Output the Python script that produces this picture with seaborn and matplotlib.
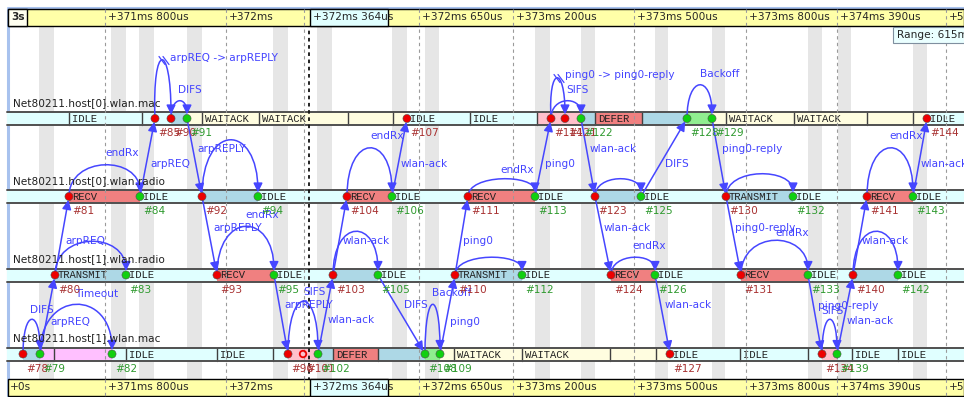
import numpy as np
import pandas as pd
import matplotlib
matplotlib.use("Agg")
import matplotlib.pyplot as plt
import seaborn as sns
from matplotlib.patches import Rectangle, FancyArrowPatch
from matplotlib.path import Path

sns.set_style("white")
plt.rcParams['font.family'] = ['DejaVu Sans']

# ---------------- data ----------------
axis_names = ["Net80211.host[0].wlan.mac", "Net80211.host[0].wlan.radio",
              "Net80211.host[1].wlan.radio", "Net80211.host[1].wlan.mac"]

# timeline ticks (x = position on the non-linear time axis)
tick_x = [105, 226, 419, 513, 634, 746, 837, 946]
tick_labels = ["+371ms 800us", "+372ms", "+372ms 650us", "+373ms 200us",
               "+373ms 500us", "+373ms 800us", "+374ms 390us", "+50"]
cursor_x = 309
cursor_label = "+372ms 364us"
range_label = "Range: 615ms"

# events: id, axis index, time position, kind (r = red, g = green, o = hollow)
event_ids = [85, 90, 91, 107, 114, 121, 122, 128, 129, 144,
             81, 84, 92, 94, 104, 106, 111, 113, 123, 125, 130, 132, 141, 143,
             80, 83, 93, 95, 103, 105, 110, 112, 124, 126, 131, 133, 140, 142,
             78, 79, 82, 96, 101, 102, 108, 109, 127, 134, 139]
event_axis = [0] * 10 + [1] * 14 + [2] * 14 + [3] * 11
event_t = [155, 171, 187, 407, 551, 565, 581, 687, 712, 927,
           69, 140, 202, 258, 347, 392, 468, 535, 595, 641, 726, 793, 867, 913,
           55, 126, 217, 274, 333, 378, 455, 522, 611, 655, 741, 808, 853, 898,
           23, 40, 112, 288, 303, 318, 425, 440, 670, 822, 837]
event_kind = ['r', 'r', 'g', 'r', 'r', 'r', 'g', 'g', 'g', 'r',
              'r', 'g', 'r', 'g', 'r', 'g', 'r', 'g', 'r', 'g', 'r', 'g', 'r', 'g',
              'r', 'g', 'r', 'g', 'r', 'g', 'r', 'g', 'r', 'g', 'r', 'g', 'r', 'g',
              'r', 'g', 'g', 'r', 'o', 'g', 'g', 'g', 'r', 'r', 'g']

# state segments per axis: start, colour key, text, left separator
mac0_t0 = [7, 69, 142, 171, 187, 202, 259, 348, 393, 407, 470, 537, 581, 595, 642, 687, 712, 726, 794, 867, 913, 927]
mac0_state = ['cyan', 'cyan', 'cyan', 'blue', 'yellow', 'yellow', 'yellow', 'yellow', 'yellow', 'cyan', 'cyan',
              'pink', 'blue', 'salmon', 'blue', 'green', 'yellow', 'yellow', 'yellow', 'yellow', 'yellow', 'cyan']
mac0_text = ['', 'IDLE', '', '', '', 'WAITACK', 'WAITACK', '', '', 'IDLE', 'IDLE', '', '', 'DEFER', '', '', '',
             'WAITACK', 'WAITACK', '', '', 'IDLE']
mac0_sep = [0, 1, 1, 0, 0, 1, 1, 1, 1, 0, 1, 1, 0, 1, 1, 0, 0, 1, 1, 1, 1, 0]

radio0_t0 = [7, 69, 140, 202, 258, 347, 392, 468, 535, 595, 641, 726, 793, 867, 913]
radio0_state = ['cyan', 'salmon', 'cyan', 'blue', 'cyan', 'salmon', 'cyan', 'salmon', 'cyan', 'blue', 'cyan',
                'blue', 'cyan', 'salmon', 'cyan']
radio0_text = ['', 'RECV', 'IDLE', '', 'IDLE', 'RECV', 'IDLE', 'RECV', 'IDLE', '', 'IDLE', 'TRANSMIT', 'IDLE',
               'RECV', 'IDLE']

radio1_t0 = [7, 55, 126, 217, 274, 333, 378, 455, 522, 611, 655, 741, 808, 853, 898]
radio1_state = ['cyan', 'blue', 'cyan', 'salmon', 'cyan', 'blue', 'cyan', 'blue', 'cyan', 'salmon', 'cyan',
                'salmon', 'cyan', 'blue', 'cyan']
radio1_text = ['', 'TRANSMIT', 'IDLE', 'RECV', 'IDLE', '', 'IDLE', 'TRANSMIT', 'IDLE', 'RECV', 'IDLE', 'RECV',
               'IDLE', '', 'IDLE']

mac1_t0 = [7, 23, 40, 54, 112, 126, 217, 273, 288, 318, 333, 378, 425, 440, 454, 522, 610, 656, 670, 740,
           808, 822, 837, 852, 898]
mac1_state = ['cyan', 'blue', 'violet', 'violet', 'cyan', 'cyan', 'cyan', 'cyan', 'pink', 'blue', 'salmon',
              'blue', 'green', 'yellow', 'yellow', 'yellow', 'yellow', 'yellow', 'cyan', 'cyan', 'cyan', 'pink',
              'cyan', 'cyan', 'cyan']
mac1_text = ['', '', '', '', '', 'IDLE', 'IDLE', '', '', '', 'DEFER', '', '', '', 'WAITACK', 'WAITACK', '', '',
             'IDLE', 'IDLE', '', '', '', 'IDLE', 'IDLE']
mac1_sep = [0, 0, 0, 1, 0, 1, 1, 1, 0, 0, 1, 1, 0, 0, 1, 1, 1, 1, 0, 1, 1, 0, 0, 1, 1]

# messages between axes: (from axis, from t) -> (to axis, to t)
msg_from_axis = [3, 2, 1, 0, 1, 2, 3, 2, 1, 2, 3, 2, 1, 0, 1, 2, 1, 0, 1, 2, 3, 2, 1]
msg_from_t = [40, 55, 140, 187, 202, 274, 318, 333, 392, 378, 440, 455, 535, 581, 595, 655, 641, 712, 726, 808, 837, 853, 913]
msg_to_axis = [2, 1, 0, 1, 2, 3, 2, 1, 0, 3, 2, 1, 0, 1, 2, 3, 0, 1, 2, 3, 2, 1, 0]
msg_to_t = [55, 69, 155, 202, 217, 288, 333, 347, 407, 425, 455, 468, 551, 595, 611, 670, 687, 726, 741, 822, 853, 867, 927]

# self messages (arcs) on one axis: start, end, height, filtered (zig-zag)
arc_axis = [0, 0, 0, 0, 0,
            1, 1, 1, 1, 1, 1, 1,
            2, 2, 2, 2, 2, 2, 2,
            3, 3, 3, 3, 3]
arc_t0 = [155, 171, 551, 551, 687,
          69, 202, 347, 468, 595, 726, 867,
          55, 217, 333, 455, 611, 741, 853,
          23, 40, 288, 425, 822]
arc_t1 = [171, 187, 565, 581, 712,
          140, 258, 392, 535, 641, 793, 913,
          126, 274, 378, 522, 655, 808, 898,
          40, 112, 318, 440, 837]
arc_h = [58, 17, 40, 17, 33,
         31, 56, 48, 17, 17, 22, 48,
         33, 48, 43, 17, 17, 34, 43,
         34, 49, 52, 49, 34]
arc_filtered = [1, 0, 1, 0, 0] + [0] * 19

# message labels (text, x, y)
msg_label_text = ["arpREQ -> arpREPLY", "DIFS", "ping0 -> ping0-reply", "SIFS", "Backoff",
                  "endRx", "arpREQ", "arpREPLY", "endRx", "wlan-ack", "endRx", "ping0", "wlan-ack", "DIFS",
                  "ping0-reply", "endRx", "wlan-ack",
                  "arpREQ", "endRx", "arpREPLY", "wlan-ack", "ping0", "wlan-ack", "endRx", "ping0-reply",
                  "endRx", "wlan-ack",
                  "Timeout", "DIFS", "arpREQ", "SIFS", "arpREPLY", "wlan-ack", "DIFS", "Backoff", "ping0",
                  "wlan-ack", "ping0-reply", "SIFS", "wlan-ack"]
msg_label_x = [170, 178, 565, 566, 700,
               105, 150, 197, 370, 401, 500, 545, 590, 665, 722, 889, 921,
               65, 245, 213, 343, 463, 604, 632, 735, 775, 862,
               75, 30, 50, 303, 284, 328, 404, 432, 450, 665, 818, 821, 847]
msg_label_y = [58, 90, 75, 90, 74,
               153, 164, 149, 136, 164, 170, 164, 149, 164, 149, 136, 164,
               241, 215, 228, 241, 241, 228, 246, 228, 233, 241,
               294, 310, 322, 292, 305, 320, 305, 293, 322, 305, 306, 311, 321]

# grey background stripes
stripe_x0 = [39, 111, 139, 187, 273, 317, 392, 425, 535, 581, 655, 712, 808, 838, 913]
stripe_w = [15, 15, 15, 15, 15, 15, 15, 14, 15, 14, 13, 13, 14, 13, 14]

# ---------------- styling / layout ----------------
W, H = 964, 397
ROW_Y = [118.5, 196.5, 275.0, 354.0]
BAR_H = 13
COLORS = {'cyan': '#e0ffff', 'blue': '#add8e6', 'salmon': '#f08080', 'yellow': '#fffde0',
          'pink': '#ffc0cb', 'violet': '#ffc0ff', 'green': '#90ee90'}
MSG_COLOR = '#4646ff'
TXT_BLUE = '#4444ff'
HEADER_YELLOW = '#ffffa8'

rows = [(mac0_t0, mac0_state, mac0_text, mac0_sep),
        (radio0_t0, radio0_state, radio0_text, [0] * len(radio0_t0)),
        (radio1_t0, radio1_state, radio1_text, [0] * len(radio1_t0)),
        (mac1_t0, mac1_state, mac1_text, mac1_sep)]

fig = plt.figure(figsize=(W / 100, H / 100), dpi=100)
ax = fig.add_axes([0, 0, 1, 1])
ax.set_xlim(0, W)
ax.set_ylim(H, 0)
ax.axis('off')

# window frame
ax.plot([7, W], [7.5, 7.5], color='#a8c2ee', lw=2.2, zorder=1, solid_capstyle='butt')
ax.plot([7.5, 7.5], [7, H], color='#a8c2ee', lw=2.2, zorder=1, solid_capstyle='butt')

# grey stripes
for x0, w in zip(stripe_x0, stripe_w):
    ax.add_patch(Rectangle((x0, 26), w, 353, facecolor='#e6e6e6', edgecolor='none', zorder=0))

# dashed tick lines + cursor line
for x in tick_x:
    ax.plot([x, x], [9, 396], color='#9a9a9a', lw=0.8, ls=(0, (3, 3)), zorder=3)
ax.plot([cursor_x - 5, cursor_x - 5], [9, 396], color='#9a9a9a', lw=0.8, ls=(0, (3, 3)), zorder=3)
ax.plot([cursor_x, cursor_x], [9, 396], color='#111111', lw=1.3, ls=(0, (2, 2)), zorder=3)

# axis bars
for a, y in enumerate(ROW_Y):
    ax.text(13, y - 15.5, axis_names[a], fontsize=7.6, color='#202020', va='center', ha='left', zorder=6)
    t0s, states, texts, seps = rows[a]
    t1s = list(t0s[1:]) + [W + 2]
    for t0, t1, st, tx, sp in zip(t0s, t1s, states, texts, seps):
        ax.add_patch(Rectangle((t0, y - BAR_H / 2), t1 - t0, BAR_H, facecolor=COLORS[st],
                               edgecolor='none', zorder=2))
        if sp:
            ax.plot([t0, t0], [y - BAR_H / 2, y + BAR_H / 2], color='#404040', lw=1.0, zorder=2.5)
        if tx:
            ax.text(t0 + 3, y + 0.5, tx, fontsize=7.6, family='Liberation Mono', color='#202020',
                    va='center', ha='left', zorder=2.6)
    ax.plot([7, W], [y - BAR_H / 2, y - BAR_H / 2], color='#505050', lw=1.4, zorder=2.7)
    ax.plot([7, W], [y + BAR_H / 2, y + BAR_H / 2], color='#505050', lw=1.4, zorder=2.7)

head = "-|>,head_length=0.55,head_width=0.27"

# messages between axes
for fa, ft, ta, tt in zip(msg_from_axis, msg_from_t, msg_to_axis, msg_to_t):
    p = FancyArrowPatch((ft, ROW_Y[fa]), (tt, ROW_Y[ta]), arrowstyle=head, mutation_scale=10,
                        color=MSG_COLOR, lw=1.1, shrinkA=0, shrinkB=2.5, zorder=4)
    ax.add_patch(p)

# self-message arcs
k = 4.0 / 3.0
for a, t0, t1, h, fl in zip(arc_axis, arc_t0, arc_t1, arc_h, arc_filtered):
    y = ROW_Y[a]
    verts = [(t0, y), (t0 - (3 if fl else 0), y - k * h), (t1, y - k * h), (t1, y - 4)]
    codes = [Path.MOVETO, Path.CURVE4, Path.CURVE4, Path.CURVE4]
    p = FancyArrowPatch(path=Path(verts, codes), arrowstyle=head, mutation_scale=10,
                        color=MSG_COLOR, lw=1.1, zorder=4)
    ax.add_patch(p)
    if fl:
        xm = (t0 + t1) / 2 - 1
        ym = y - h
        for d in (0, 4):
            ax.plot([xm - 3 + d, xm + 3 + d], [ym - 4, ym + 4], color=MSG_COLOR, lw=0.9, zorder=4)

for t, x, y in zip(msg_label_text, msg_label_x, msg_label_y):
    ax.text(x, y, t, fontsize=7.6, color=TXT_BLUE, va='center', ha='left', zorder=4.5)

# events
ev = pd.DataFrame({'id': event_ids, 'axis': event_axis, 't': event_t, 'kind': event_kind})
ev['y'] = [ROW_Y[a] for a in ev['axis']]
solid = ev[ev['kind'] != 'o']
sns.scatterplot(data=solid, x='t', y='y', hue='kind', palette={'r': '#ee0000', 'g': '#10d010'},
                s=34, edgecolor='#505050', linewidth=0.4, legend=False, ax=ax, zorder=5)
hollow = ev[ev['kind'] == 'o']
sns.scatterplot(data=hollow, x='t', y='y', s=22, facecolor='none', edgecolor='#ee0000',
                linewidth=1.3, legend=False, ax=ax, zorder=5)
for _, r in ev.iterrows():
    c = '#a83232' if r['kind'] != 'g' else '#2f9a2f'
    ax.text(r['t'] + 3, r['y'] + 15, f"#{r['id']}", fontsize=7.6, color=c, va='center', ha='left', zorder=4.6)

# header / footer time rulers
for (y0, first) in ((9, '3s'), (379, '+0s')):
    ax.add_patch(Rectangle((8, y0), W - 8, 17, facecolor=HEADER_YELLOW, edgecolor='black', lw=1.0, zorder=6))
    if first == '3s':
        ax.add_patch(Rectangle((8, y0), 19, 17, facecolor='#fffff0', edgecolor='black', lw=1.0, zorder=6.1))
        ax.text(11, y0 + 8.5, first, fontsize=7.6, fontweight='bold', va='center', ha='left', zorder=7)
    else:
        ax.text(10, y0 + 8.5, first, fontsize=7.6, va='center', ha='left', zorder=7)
    ax.add_patch(Rectangle((cursor_x + 1, y0), 78, 17, facecolor='#e0ffff', edgecolor='black', lw=1.0, zorder=6.1))
    ax.text(cursor_x + 4, y0 + 8.5, cursor_label, fontsize=7.6, va='center', ha='left', zorder=7)
    for x, lab in zip(tick_x, tick_labels):
        ax.plot([x, x], [y0, y0 + 17], color='#9a9a9a', lw=0.8, ls=(0, (3, 3)), zorder=6.2)
        ax.text(x + 3, y0 + 8.5, lab, fontsize=7.6, va='center', ha='left', zorder=7)
    ax.plot([cursor_x - 5, cursor_x - 5], [y0, y0 + 17], color='#9a9a9a', lw=0.8, ls=(0, (3, 3)), zorder=6.2)

# range tooltip
ax.add_patch(Rectangle((893, 27), 75, 16, facecolor='#eaffff', edgecolor='#7f8f9f', lw=0.8, zorder=8))
ax.text(897, 35.5, range_label, fontsize=7.6, va='center', ha='left', zorder=9)

ax.set_xlim(0, W)
ax.set_ylim(H, 0)
fig.savefig("out.png", dpi=100)
